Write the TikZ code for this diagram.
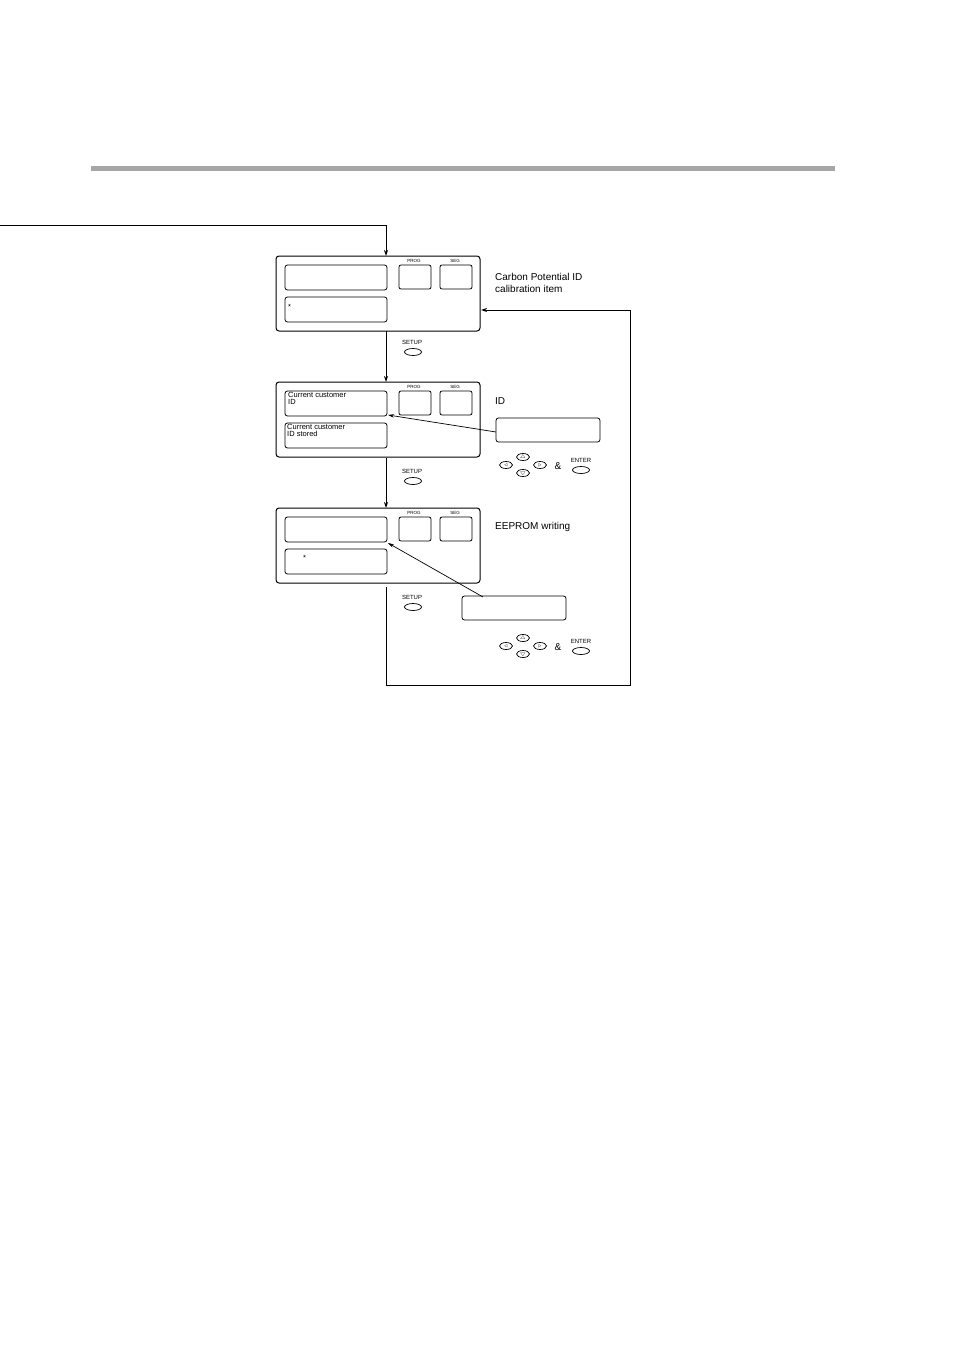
\documentclass[tikz,border=0pt]{standalone}
\usepackage{fontspec}
\setmainfont{Liberation Sans}
\usetikzlibrary{arrows.meta,shapes.geometric}
\begin{document}
\begin{tikzpicture}[x=1pt,y=-1pt,
 panel/.style={draw,line width=1pt,rounded corners=3pt},
 disp/.style={draw,line width=0.8pt,rounded corners=2.5pt},
 btn/.style={draw,line width=0.8pt,rounded corners=2pt},
 tiny/.style={font=\fontsize{4.5}{5}\selectfont,inner sep=0pt},
 key/.style={draw,line width=0.7pt,ellipse,minimum width=13pt,minimum height=7pt,inner sep=0pt,font=\fontsize{4.5}{5}\selectfont},
 lbl/.style={font=\fontsize{10}{12}\selectfont,anchor=west,inner sep=0pt,align=left},
 dtxt/.style={font=\fontsize{7.5}{7.5}\selectfont,anchor=north west,inner sep=0pt,align=left},
 arr/.style={line width=1pt,-{Stealth[length=6pt,width=4pt]}},
 thin/.style={line width=0.7pt,-{Stealth[length=6pt,width=3.5pt]}}]
\useasboundingbox (0,0) rectangle (954,1351);
\fill[gray!70] (91,166) rectangle (835,171);
\newcommand{\panelat}[2]{%
 \draw[panel] (276,#1) rectangle (480,#1+75);
 \draw[disp] (285,#1+9) rectangle (387,#1+34);
 \draw[disp] (285,#1+41) rectangle (387,#1+66);
 \draw[btn] (399,#1+9) rectangle (431,#1+33);
 \draw[btn] (440,#1+9) rectangle (472,#1+33);
 \node[tiny] (prog#2) at (414,#1+5) {PROG};
 \node[tiny] (seg#2) at (455,#1+5) {SEG};}
\panelat{256}{a}
\panelat{382}{b}
\panelat{508}{c}
\coordinate (p1t) at (386,256); \coordinate (p1b) at (386,331);
\coordinate (p2t) at (386,382); \coordinate (p2b) at (386,458);
\coordinate (p3t) at (386,508); \coordinate (p3b) at (386,587);
\coordinate (start) at (0,225);
\draw[arr] (start) -| (p1t);
\draw[arr] (p1b) -- (p2t);
\draw[arr] (p2b) -- (p3t);
\coordinate (ret) at (481,310);
\draw[arr] (p3b) -- (386,685) -- (630,685) |- (ret);
\newcommand{\setupat}[2]{%
 \node[tiny,font=\fontsize{6}{6}\selectfont] (su#2) at (412,#1) {SETUP};
 \node[key,minimum width=17pt] (so#2) at (413,#1+10) {};}
\setupat{342}{a}\setupat{471}{b}\setupat{597}{c}
\node[dtxt] at (288,304) {*};
\node[dtxt] at (303,555) {*};
\node[dtxt] at (288,392) {Current customer\\ID};
\node[dtxt] at (287,424) {Current customer\\ID stored};
\node[lbl] at (495,283) {Carbon Potential ID\\calibration item};
\node[lbl] at (495,401) {ID};
\node[lbl] at (495,527) {EEPROM writing};
\draw[disp] (496,418) rectangle (600,442);
\coordinate (idsrc) at (496,432);
\coordinate (idtgt) at (388,415);
\draw[thin] (idsrc) -- (idtgt);
\draw[disp] (462,596) rectangle (566,620);
\coordinate (eesrc) at (483,597);
\coordinate (eetgt) at (388,543);
\draw[thin] (eesrc) -- (eetgt);
\newcommand{\keysat}[2]{%
 \node[key] (l#2) at (506,#1) {$\triangleleft$};
 \node[key] (r#2) at (540,#1) {$\triangleright$};
 \node[key] (u#2) at (523,#1-8) {$\triangle$};
 \node[key] (d#2) at (523,#1+8) {$\bigtriangledown$};
 \node[font=\fontsize{10}{10}\selectfont,inner sep=0pt] (amp#2) at (558,#1+1) {\&};
 \node[tiny,font=\fontsize{6}{6}\selectfont] (en#2) at (581,#1-5) {ENTER};
 \node[key,minimum width=17pt] (eo#2) at (581,#1+5) {};}
\keysat{465}{a}
\keysat{646}{b}
\end{tikzpicture}
\end{document}
